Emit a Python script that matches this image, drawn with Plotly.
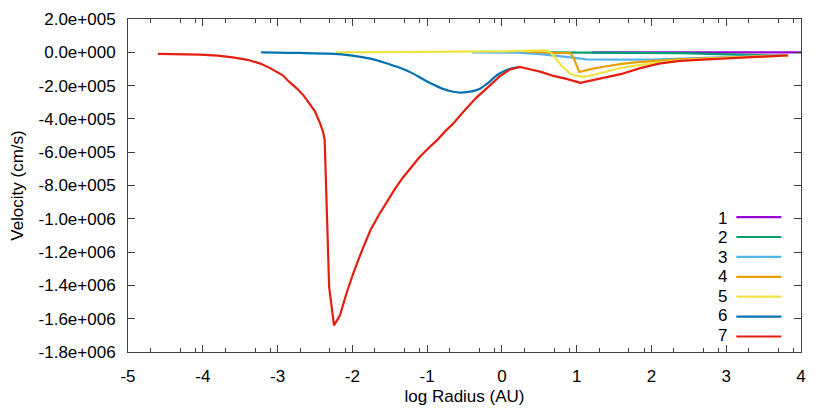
import numpy as np
import plotly.graph_objects as go

# log radius (AU) and velocity (cm/s) for each of the 7 stages
r1 = [1.2, 2.0, 3.0, 4.0]
v1 = [0, 0, 0, 0]

r2 = [0.5, 1.5, 2.0, 2.2, 2.42, 2.65, 3.0, 3.32, 3.83]
v2 = [-1e3, -1e3, -1e3, -3e3, -5e3, -8e3, -1.3e4, -1.8e4, -2.2e4]

r3 = [-0.4, 0.2, 0.51, 0.7, 0.95, 1.13, 1.4, 2.02, 2.4, 2.92, 3.4, 3.82]
v3 = [0, -2e3, -1.1e4, -2.2e4, -3.2e4, -4.2e4, -4.4e4, -4.4e4, -3.8e4, -2.8e4, -2.3e4, -2e4]

r4 = [0.3, 0.5, 0.7, 0.92, 0.96, 1.035, 1.2, 1.4, 1.6, 1.85, 2.1, 2.38, 2.7, 3.0, 3.4, 3.82]
v4 = [5e3, 0, -3e3, -5e3, -3.5e4, -1.18e5, -1.0e5, -8.4e4, -7e4, -5.8e4, -4.9e4, -4.2e4, -3.6e4, -3.1e4, -2.5e4, -2e4]

r5 = [-2.22, -1.5, -0.5, 0.0, 0.3, 0.51, 0.58, 0.64, 0.7, 0.78, 0.85, 0.91, 1.0, 1.09, 1.2, 1.4, 1.6,
      1.85, 2.1, 2.38, 2.7, 3.0, 3.4, 3.82]
v5 = [-1e3, 0, 3e3, 6e3, 9e3, 1.2e4, 1.1e4, 4e3, -2.5e4, -7.2e4, -1.05e5, -1.28e5, -1.42e5, -1.48e5,
      -1.38e5, -1.14e5, -9.3e4, -7.6e4, -6e4, -4.8e4, -3.8e4, -3.2e4, -2.6e4, -2e4]

r6 = [-3.22, -3.0, -2.7, -2.3, -2.0, -1.76, -1.6, -1.5, -1.41, -1.32, -1.2, -1.1, -0.96, -0.8, -0.65,
      -0.56, -0.45, -0.3, -0.2, -0.05, 0.1, 0.24]
v6 = [-1e3, -2e3, -4e3, -8e3, -2e4, -3.8e4, -5.8e4, -7.2e4, -8.5e4, -1.0e5, -1.25e5, -1.5e5, -1.85e5,
      -2.18e5, -2.37e5, -2.42e5, -2.38e5, -2.2e5, -1.9e5, -1.32e5, -1.0e5, -8.8e4]

r7 = [-4.6, -4.3, -4.04, -3.8, -3.6, -3.4, -3.23, -3.1, -2.93, -2.85, -2.74, -2.65, -2.57, -2.5,
      -2.43, -2.39, -2.37, -2.35, -2.33, -2.31, -2.245, -2.165, -2.08, -1.99, -1.88, -1.76, -1.65,
      -1.54, -1.43, -1.32, -1.21, -1.10, -0.98, -0.87, -0.76, -0.65, -0.5, -0.34, -0.2, -0.03,
      0.1, 0.24, 0.4, 0.51, 0.69, 0.85, 1.05, 1.2, 1.4, 1.6, 1.85, 2.1, 2.38, 2.65, 3.0, 3.4, 3.82]
v7 = [-1.0e4, -1.1e4, -1.4e4, -2.0e4, -3.0e4, -4.5e4, -6.8e4, -9.5e4, -1.38e5, -1.75e5, -2.18e5,
      -2.6e5, -3.08e5, -3.55e5, -4.28e5, -4.8e5, -5.28e5, -8.5e5, -1.2e6, -1.41e6, -1.64e6, -1.58e6,
      -1.45e6, -1.33e6, -1.2e6, -1.07e6, -9.8e5, -9.0e5, -8.2e5, -7.5e5, -6.9e5, -6.29e5, -5.75e5,
      -5.29e5, -4.75e5, -4.28e5, -3.5e5, -2.72e5, -2.15e5, -1.45e5, -1.05e5, -8.8e4, -1.05e5, -1.16e5,
      -1.42e5, -1.58e5, -1.83e5, -1.68e5, -1.52e5, -1.3e5, -9.5e4, -6.8e4, -5.2e4, -4.4e4, -3.6e4,
      -2.8e4, -1.8e4]

names = ["1", "2", "3", "4", "5", "6", "7"]
colors = ["#9400D3", "#009E73", "#56B4E9", "#E69F00", "#F0E442", "#0072B2", "#E51E10"]
xticks = list(range(-5, 5))
yticks = [2e5 - 2e5 * i for i in range(11)]
ylabels = ["%.1e" % v for v in yticks]
ylabels = [s[:-2] + "0" + s[-2:] for s in ylabels]  # three-digit exponent
minor_x = [k + m for k in range(-5, 4) for m in (np.log10(2), np.log10(5), np.log10(8))]

series = [(r1, v1), (r2, v2), (r3, v3), (r4, v4), (r5, v5), (r6, v6), (r7, v7)]
FS = 17

fig = go.Figure()
for (r, v), name, c in zip(series, names, colors):
    shape = "spline" if name == "6" else "linear"
    fig.add_trace(go.Scatter(x=r, y=v, mode="lines", name="",
                             line=dict(color=c, width=2.2, shape=shape, smoothing=0.6),
                             showlegend=True))

# legend labels sit to the left of the line samples, as gnuplot draws them
for i, name in enumerate(names):
    fig.add_annotation(text=name, xref="paper", yref="paper", x=0.893, y=0.4024 - i * 0.0586,
                       xanchor="right", yanchor="middle", showarrow=False,
                       font=dict(size=FS, color="black"))

axis_style = dict(showgrid=False, zeroline=False, showline=True, linecolor="#404040", linewidth=1,
                  mirror="allticks", ticks="inside", ticklen=7, tickcolor="#404040",
                  tickfont=dict(size=FS, color="black"), automargin=False)

fig.update_xaxes(range=[-5, 4], tickvals=xticks, ticktext=[str(t) for t in xticks],
                 title=dict(text="log Radius (AU)", font=dict(size=FS, color="black"), standoff=4),
                 minor=dict(tickmode="array", tickvals=minor_x, ticks="inside", ticklen=4,
                            tickcolor="#404040"),
                 ticklabelstandoff=9, **axis_style)
fig.update_yaxes(range=[-1.8e6, 2e5], tickvals=yticks, ticktext=ylabels,
                 title=dict(text="Velocity (cm/s)", font=dict(size=FS, color="black"), standoff=23),
                 ticklabelstandoff=8, **axis_style)

# the page body adds 8px, so the margins are offset to keep the plot box where it belongs
fig.update_layout(width=830, height=415, margin=dict(l=120, r=37, t=11, b=71),
                  plot_bgcolor="white", paper_bgcolor="white",
                  font=dict(family="Liberation Sans, Arial, sans-serif", size=FS, color="black"),
                  legend=dict(x=0.8965, y=0.45, xanchor="left", yanchor="top",
                              bgcolor="rgba(0,0,0,0)", font=dict(size=13), itemwidth=45,
                              tracegroupgap=0))

fig.write_html("out.html")
